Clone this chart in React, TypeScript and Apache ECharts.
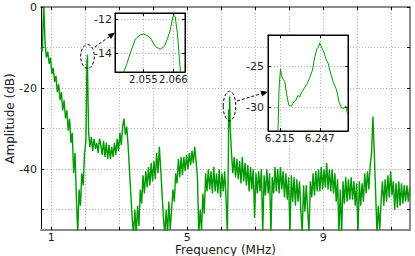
import React, { useEffect, useRef } from "react";
import * as echarts from "echarts";

// ---- main spectrum: amplitude (dB) sampled every 0.04 MHz starting at 0.70 MHz ----
const mainStartMHz = 0.7;
const mainStepMHz = 0.04;
const mainAmplitudeDb = [
  -10, -11, 1, -9, -12.5, -11, -14, -12.5, -16.5, -15,
  -18.5, -17, -21, -19, -23, -21, -25.5, -23, -27.5, -25.5,
  -30.5, -27.5, -33.5, -31, -41, -36, -47, -56, -45, -49,
  -41, -44, -36, -33, -20, -31, -34.5, -32, -35.5, -32.5,
  -35, -33.5, -36, -32.5, -34, -36.5, -33, -37, -33.5, -37.5,
  -34, -37.5, -34.5, -37, -33.5, -36.5, -32.5, -35.5, -31, -34,
  -29.5, -27.5, -31.5, -29.5, -34, -40, -46, -52, -56, -50,
  -56, -49, -54, -45, -48.5, -41.5, -46, -40.5, -44.5, -39.5,
  -44, -38.5, -43, -38, -42.5, -36, -41, -34.5, -40, -46,
  -52, -56, -50, -56, -48, -55, -50, -45, -48, -41,
  -43.5, -37.5, -42, -37, -41.5, -37, -40.5, -36.5, -40, -36,
  -39, -35.5, -38.5, -34.5, -38, -42, -56, -50, -55, -46,
  -51, -41, -45.5, -40, -45, -40.5, -46, -39.5, -45.5, -41,
  -46, -40, -47, -41, -45.5, -40.5, -47, -56, -44, -38,
  -36, -41, -37, -42, -37.5, -42.5, -38, -43.5, -37, -43,
  -38.5, -44, -39, -45.5, -39.5, -45, -40, -52, -41, -46,
  -40.5, -45.5, -40, -56, -41.5, -46.5, -40, -46, -41, -56,
  -42, -46, -39.5, -45.5, -40, -46, -39.5, -45, -40.5, -47,
  -41, -47.5, -42, -56, -41.5, -48, -42, -49, -42.5, -48,
  -43, -50, -56, -44, -50.5, -44, -50, -56, -43, -47,
  -41, -46.5, -40.5, -45.5, -40, -45.5, -39.5, -45, -40, -44.5,
  -38.5, -45, -40, -45.5, -40, -46, -41, -48, -42.5, -56,
  -45, -56, -43, -48.5, -42, -48, -42.5, -47.5, -42, -47.5,
  -43, -49, -43.5, -56, -43, -49, -43.5, -48, -41, -46,
  -40.5, -45, -39, -36, -27, -36, -46, -56, -49, -55,
  -48, -43, -49, -42.5, -48, -41.5, -47, -40.5, -46.5, -43,
  -50, -43.5, -49.5, -43, -49, -43.5, -48.5, -44, -48, -44,
  -48, -44.5,
];

// ---- zoom A: detail around 2.06 MHz ----
const zoomAFreqMHz = [
  2.047, 2.0478, 2.049, 2.0502, 2.0512, 2.0521, 2.0539, 2.0551, 2.0563, 2.0576, 2.0594,
  2.0612, 2.0627, 2.0639, 2.0649, 2.0656, 2.0661, 2.0667, 2.0675, 2.068, 2.0686, 2.0692,
];
const zoomAAmpDb = [
  -16.0, -15.1, -14.6, -13.98, -13.55, -13.16, -12.92, -12.86, -12.95, -13.1, -13.6,
  -13.76, -13.6, -13.12, -12.63, -12.04, -11.75, -11.85, -12.8, -13.8, -15.1, -16.0,
];

// ---- zoom B: detail around 6.25 MHz ----
const zoomBFreqMHz = [
  6.2128, 6.2136, 6.2144, 6.2156, 6.2164, 6.2172, 6.219, 6.2204, 6.2222, 6.2244, 6.2262, 6.2278,
  6.2296, 6.231, 6.2324, 6.2336, 6.235, 6.2368, 6.239, 6.2412, 6.243, 6.2448, 6.246, 6.247,
  6.2484, 6.2502, 6.2524, 6.2538, 6.255, 6.2576, 6.2604, 6.2624, 6.2644, 6.2662, 6.2678, 6.2696,
];
const zoomBAmpDb = [
  -34.0, -32.84, -27.7, -25.3, -26.0, -26.4, -26.8, -28.3, -29.7, -29.8, -29.3, -29.1,
  -28.5, -28.7, -28.1, -27.9, -27.5, -27.1, -26.3, -25.4, -23.8, -22.8, -22.6, -22.1,
  -22.6, -23.2, -24.2, -24.6, -25.4, -26.8, -27.8, -29.3, -30.0, -30.1, -29.8, -30.9,
];

// ---- ticks / labels ----
const mainXTicks = [1, 2, 3, 4, 5, 6, 7, 8, 9, 10, 11];
const mainXLabels = [1, 5, 9];
const mainYTicks = [0, -10, -20, -30, -40, -50];
const mainYLabels = [0, -20, -40];
const zoomATicksX = [2.055, 2.066];
const zoomATicksY = [-12, -14];
const zoomBTicksX = [6.215, 6.247];
const zoomBTicksY = [-25, -30];

const FONT = "DejaVu Sans";
const TXT = "#222";
const GREEN = "#009900";
const dotted = { color: "#b4b4b4", type: [1, 2] as number[], width: 1 };

function buildOption() {
  const round = (v: number) => Math.round(v * 10000) / 10000;
  const inRange = (f: number, arr: number[]) => f >= arr[0] && f <= arr[arr.length - 1];
  const gridPts = mainAmplitudeDb
    .map((v, i) => [round(mainStartMHz + mainStepMHz * i), v])
    .filter(([f]) => !inRange(f, zoomAFreqMHz) && !inRange(f, zoomBFreqMHz));
  const zoomA = zoomAFreqMHz.map((f, i) => [f, zoomAAmpDb[i]]);
  const zoomB = zoomBFreqMHz.map((f, i) => [f, zoomBAmpDb[i]]);
  const merged = [...gridPts, ...zoomA, ...zoomB].sort((a, b) => a[0] - b[0]);

  const tick = (vals: number[]) => ({
    show: true,
    inside: true,
    length: 3,
    customValues: vals,
    lineStyle: { color: "#000", width: 1 },
  });
  const label = (vals: number[], margin: number, fmt: (v: number) => string, size = 11) => ({
    show: true,
    customValues: vals,
    margin,
    color: TXT,
    fontSize: size,
    lineHeight: size,
    fontFamily: FONT,
    hideOverlap: false,
    showMinLabel: true,
    showMaxLabel: true,
    formatter: (v: number) => fmt(v),
  });
  const noLabel = { show: false };
  const line = (color: string, width: number) => ({
    show: true,
    onZero: false,
    lineStyle: { color, width },
  });

  const mainGray = "#8a8a8a";
  const intFmt = (v: number) => String(Math.round(v));
  const f3 = (v: number) => v.toFixed(3);

  const xAxis: any[] = [
    {
      type: "value", gridIndex: 0, position: "bottom", min: 0.7, max: 11.55,
      minInterval: 1, maxInterval: 1, z: 1,
      axisLine: line(mainGray, 2), axisTick: tick(mainXTicks),
      axisLabel: label(mainXLabels, 1.5, intFmt),
      splitLine: { show: true, lineStyle: dotted },
      name: "Frequency (MHz)", nameLocation: "middle", nameGap: 13.5, nameMoveOverlap: false,
      nameTextStyle: { color: TXT, fontSize: 12, lineHeight: 12, fontFamily: FONT },
    },
    {
      type: "value", gridIndex: 0, position: "top", min: 0.7, max: 11.55,
      minInterval: 1, maxInterval: 1, z: 1,
      axisLine: line(mainGray, 2), axisTick: tick(mainXTicks), axisLabel: noLabel,
      splitLine: { show: false },
    },
    {
      type: "value", gridIndex: 1, position: "bottom", min: 2.0446, max: 2.0703, z: 11,
      axisLine: line("#000", 1), axisTick: tick(zoomATicksX),
      axisLabel: label(zoomATicksX, 2, f3, 10),
      splitLine: { show: true, lineStyle: dotted },
    },
    {
      type: "value", gridIndex: 1, position: "top", min: 2.0446, max: 2.0703, z: 11,
      axisLine: line("#000", 1), axisTick: tick(zoomATicksX), axisLabel: noLabel,
      splitLine: { show: false },
    },
    {
      type: "value", gridIndex: 2, position: "bottom", min: 6.2056, max: 6.2696, z: 11,
      axisLine: line("#000", 1), axisTick: tick(zoomBTicksX),
      axisLabel: label(zoomBTicksX, 2, f3, 10.5),
      splitLine: { show: true, lineStyle: dotted },
    },
    {
      type: "value", gridIndex: 2, position: "top", min: 6.2056, max: 6.2696, z: 11,
      axisLine: line("#000", 1), axisTick: tick(zoomBTicksX), axisLabel: noLabel,
      splitLine: { show: false },
    },
  ];

  const yAxis: any[] = [
    {
      type: "value", gridIndex: 0, position: "left", min: -55, max: 0,
      minInterval: 10, maxInterval: 10, z: 1,
      axisLine: line("#000", 1), axisTick: tick(mainYTicks),
      axisLabel: label(mainYLabels, 4, intFmt),
      splitLine: { show: true, lineStyle: dotted },
      name: "Amplitude (dB)", nameLocation: "middle", nameGap: 25, nameMoveOverlap: false,
      nameTextStyle: { color: TXT, fontSize: 12, fontFamily: FONT },
    },
    {
      type: "value", gridIndex: 0, position: "right", min: -55, max: 0,
      minInterval: 10, maxInterval: 10, z: 1,
      axisLine: line(mainGray, 2), axisTick: tick(mainYTicks), axisLabel: noLabel,
      splitLine: { show: false },
    },
    {
      type: "value", gridIndex: 1, position: "left", min: -15.1, max: -11.63, z: 11,
      axisLine: line("#000", 1), axisTick: tick(zoomATicksY),
      axisLabel: label(zoomATicksY, 3, intFmt),
      splitLine: { show: true, lineStyle: dotted },
    },
    {
      type: "value", gridIndex: 1, position: "right", min: -15.1, max: -11.63, z: 11,
      axisLine: line("#000", 1), axisTick: tick(zoomATicksY), axisLabel: noLabel,
      splitLine: { show: false },
    },
    {
      type: "value", gridIndex: 2, position: "left", min: -32.84, max: -21.13, z: 11,
      axisLine: line("#000", 1), axisTick: tick(zoomBTicksY),
      axisLabel: label(zoomBTicksY, 4, intFmt),
      splitLine: { show: true, lineStyle: dotted },
    },
    {
      type: "value", gridIndex: 2, position: "right", min: -32.84, max: -21.13, z: 11,
      axisLine: line("#000", 1), axisTick: tick(zoomBTicksY), axisLabel: noLabel,
      splitLine: { show: false },
    },
  ];

  const dash = { stroke: "#000", lineWidth: 1, lineDash: [3, 2], fill: "none" };

  return {
    animation: false,
    backgroundColor: "#fff",
    textStyle: { fontFamily: FONT },
    grid: [
      { left: 41, top: 7, width: 369, height: 223, show: false, outerBoundsMode: "none" },
      {
        left: 115, top: 13, width: 70, height: 59, show: true, z: 10,
        backgroundColor: "#fff", borderColor: "#000", borderWidth: 1, outerBoundsMode: "none",
      },
      {
        left: 268, top: 35, width: 80, height: 96, show: true, z: 10,
        backgroundColor: "#fff", borderColor: "#000", borderWidth: 1, outerBoundsMode: "none",
      },
    ],
    xAxis,
    yAxis,
    series: [
      {
        type: "line", xAxisIndex: 0, yAxisIndex: 0, data: merged, symbol: "none",
        showSymbol: false, clip: true, z: 2,
        lineStyle: { color: GREEN, width: 1.4 },
      },
      {
        type: "line", xAxisIndex: 2, yAxisIndex: 2, data: zoomA, symbol: "none",
        showSymbol: false, clip: true, z: 12,
        lineStyle: { color: GREEN, width: 1 },
      },
      {
        type: "line", xAxisIndex: 4, yAxisIndex: 4, data: zoomB, symbol: "none",
        showSymbol: false, clip: true, z: 12,
        lineStyle: { color: GREEN, width: 1 },
      },
    ],
    graphic: [
      { type: "ellipse", z: 100, shape: { cx: 87.5, cy: 56.5, rx: 6.8, ry: 12 }, style: dash },
      { type: "line", z: 100, shape: { x1: 95, y1: 47, x2: 109.3, y2: 36.6 }, style: dash },
      {
        type: "polygon", z: 100,
        shape: { points: [[115, 32.5], [111.1, 39.0], [107.6, 34.2]] },
        style: { fill: "#000" },
      },
      { type: "ellipse", z: 100, shape: { cx: 229.5, cy: 106, rx: 6.3, ry: 14.7 }, style: dash },
      { type: "line", z: 100, shape: { x1: 237, y1: 101, x2: 261.3, y2: 93.7 }, style: dash },
      {
        type: "polygon", z: 100,
        shape: { points: [[268, 91.7], [262.2, 96.6], [260.4, 90.8]] },
        style: { fill: "#000" },
      },
    ],
  };
}

export default function App() {
  const ref = useRef<HTMLDivElement>(null);
  useEffect(() => {
    document.body.style.margin = "0";
    const chart = echarts.init(ref.current as HTMLDivElement, null, { renderer: "svg" });
    chart.setOption(buildOption() as any);
    return () => chart.dispose();
  }, []);
  return <div ref={ref} style={{ width: 415, height: 256 }} />;
}
